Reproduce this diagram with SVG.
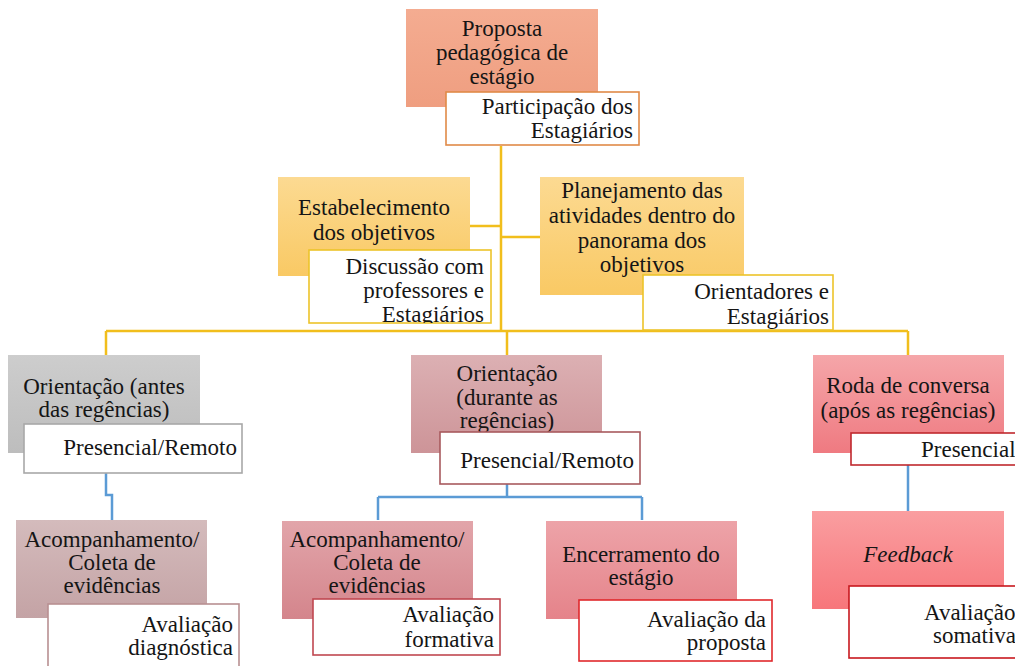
<svg xmlns="http://www.w3.org/2000/svg" width="1015" height="666" viewBox="0 0 1015 666" style="font-family:'Liberation Serif','DejaVu Serif',serif;font-size:23px">
<defs>
<linearGradient id="gTop" x1="0" y1="0" x2="0" y2="1"><stop offset="0" stop-color="#F4AC91"/><stop offset="1" stop-color="#EF9E80"/></linearGradient>
<linearGradient id="gYel" x1="0" y1="0" x2="0" y2="1"><stop offset="0" stop-color="#FCDA92"/><stop offset="1" stop-color="#F9C964"/></linearGradient>
<linearGradient id="gGray" x1="0" y1="0" x2="0" y2="1"><stop offset="0" stop-color="#CDCDCD"/><stop offset="1" stop-color="#BDBDBD"/></linearGradient>
<linearGradient id="gRoseA" x1="0" y1="0" x2="0" y2="1"><stop offset="0" stop-color="#DCB0B3"/><stop offset="1" stop-color="#CD9498"/></linearGradient>
<linearGradient id="gRed" x1="0" y1="0" x2="0" y2="1"><stop offset="0" stop-color="#F5A6A9"/><stop offset="1" stop-color="#EF7A81"/></linearGradient>
<linearGradient id="gGrayRose" x1="0" y1="0" x2="0" y2="1"><stop offset="0" stop-color="#D4BBBC"/><stop offset="1" stop-color="#C4A3A5"/></linearGradient>
<linearGradient id="gRoseB" x1="0" y1="0" x2="0" y2="1"><stop offset="0" stop-color="#E2A5AA"/><stop offset="1" stop-color="#D4858C"/></linearGradient>
<linearGradient id="gRoseC" x1="0" y1="0" x2="0" y2="1"><stop offset="0" stop-color="#EDA3A8"/><stop offset="1" stop-color="#E5838A"/></linearGradient>
<linearGradient id="gPink" x1="0" y1="0" x2="0" y2="1"><stop offset="0" stop-color="#FA9EA0"/><stop offset="1" stop-color="#F7767B"/></linearGradient>
<clipPath id="clipEst"><rect x="309" y="250" width="182" height="73"/></clipPath>
</defs>
<style>
svg text{font-family:'Liberation Serif','DejaVu Serif',serif !important;fill:#151515}
.c{text-anchor:middle}
.r{text-anchor:end}
.sub{fill:#FFFFFF;stroke-width:1.6}
.yl{fill:none;stroke:#F1BE1C;stroke-width:2.5}
.bl{fill:none;stroke:#5B9BD5;stroke-width:2.5}
</style>
<rect width="1015" height="666" fill="#FFFFFF"/>
<g id="connectors">
<path class="yl" d="M501 146 V331 M470 226 H501 M501 237 H540 M106 331 H908 M106 331 V355 M507 331 V355 M908 331 V355"/>
<path class="bl" d="M106 473 V495 H112 V520 M507 484 V497 M378 497 H642 M378 497 V520 M642 497 V520 M908 465 V511"/>
</g>
<g id="node-proposta">
<rect x="406" y="9" width="192" height="98" fill="url(#gTop)"/>
<text class="c" x="502" y="36">Proposta</text>
<text class="c" x="502" y="60">pedagógica de</text>
<text class="c" x="502" y="84">estágio</text>
<rect class="sub" x="446" y="92" width="193" height="53" stroke="#E08A48"/>
<text class="r" x="633" y="114">Participação dos</text>
<text class="r" x="633" y="138">Estagiários</text>
</g>
<g id="node-estabelecimento">
<rect x="278" y="177" width="192" height="99" fill="url(#gYel)"/>
<text class="c" x="374" y="215">Estabelecimento</text>
<text class="c" x="374" y="240">dos objetivos</text>
<rect class="sub" x="309" y="250" width="182" height="73" stroke="#EDC42A"/>
<g clip-path="url(#clipEst)">
<text class="r" x="484" y="274">Discussão com</text>
<text class="r" x="484" y="298">professores e</text>
<text class="r" x="484" y="322">Estagiários</text>
</g>
</g>
<g id="node-planejamento">
<rect x="540" y="177" width="204" height="118" fill="url(#gYel)"/>
<text class="c" x="642" y="198">Planejamento das</text>
<text class="c" x="642" y="223">atividades dentro do</text>
<text class="c" x="642" y="248">panorama dos</text>
<text class="c" x="642" y="272">objetivos</text>
<rect class="sub" x="643" y="275" width="190" height="55" stroke="#EDC42A"/>
<text class="r" x="829" y="299">Orientadores e</text>
<text class="r" x="829" y="324">Estagiários</text>
</g>
<g id="node-orientacao-antes">
<rect x="8" y="355" width="192" height="98" fill="url(#gGray)"/>
<text class="c" x="104" y="394">Orientação (antes</text>
<text class="c" x="104" y="417">das regências)</text>
<rect class="sub" x="24" y="424" width="218" height="49" stroke="#A8A8A8"/>
<text class="r" x="237" y="455">Presencial/Remoto</text>
</g>
<g id="node-orientacao-durante">
<rect x="411" y="355" width="191" height="98" fill="url(#gRoseA)"/>
<text class="c" x="507" y="381">Orientação</text>
<text class="c" x="507" y="405">(durante as</text>
<text class="c" x="507" y="428">regências)</text>
<rect class="sub" x="440" y="432" width="200" height="52" stroke="#A85A5E"/>
<text class="r" x="634" y="468">Presencial/Remoto</text>
</g>
<g id="node-roda">
<rect x="813" y="355" width="191" height="98" fill="url(#gRed)"/>
<text class="c" x="908" y="393">Roda de conversa</text>
<text class="c" x="908" y="418">(após as regências)</text>
<rect class="sub" x="851" y="433" width="170" height="32" stroke="#C0282E"/>
<text x="921" y="457">Presencial</text>
</g>
<g id="node-acomp-diag">
<rect x="16" y="520" width="191" height="98" fill="url(#gGrayRose)"/>
<text class="c" x="112" y="547">Acompanhamento/</text>
<text class="c" x="112" y="570">Coleta de</text>
<text class="c" x="112" y="593">evidências</text>
<rect class="sub" x="48" y="604" width="191" height="70" stroke="#B89092"/>
<text class="r" x="233" y="632">Avaliação</text>
<text class="r" x="233" y="655">diagnóstica</text>
</g>
<g id="node-acomp-form">
<rect x="282" y="521" width="191" height="98" fill="url(#gRoseB)"/>
<text class="c" x="377" y="547">Acompanhamento/</text>
<text class="c" x="377" y="570">Coleta de</text>
<text class="c" x="377" y="593">evidências</text>
<rect class="sub" x="313" y="599" width="187" height="56" stroke="#C04850"/>
<text class="r" x="494" y="622">Avaliação</text>
<text class="r" x="494" y="647">formativa</text>
</g>
<g id="node-encerramento">
<rect x="546" y="521" width="191" height="98" fill="url(#gRoseC)"/>
<text class="c" x="641" y="562">Encerramento do</text>
<text class="c" x="641" y="585">estágio</text>
<rect class="sub" x="579" y="600" width="193" height="61" stroke="#E0282C"/>
<text class="r" x="766" y="627">Avaliação da</text>
<text class="r" x="766" y="650">proposta</text>
</g>
<g id="node-feedback">
<rect x="812" y="511" width="192" height="98" fill="url(#gPink)"/>
<text class="c" x="908" y="562" font-style="italic">Feedback</text>
<rect class="sub" x="849" y="586" width="175" height="72" stroke="#C8181E"/>
<text x="924" y="620">Avaliação</text>
<text x="933" y="643">somativa</text>
</g>
</svg>
